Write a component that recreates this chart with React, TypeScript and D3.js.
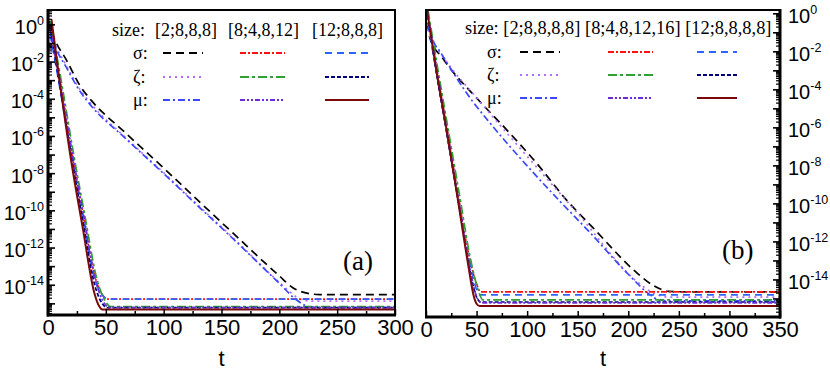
import React, { useRef, useEffect } from "react";
import * as d3 from "d3";

type Pt = [number, number]; // [t, log10 of the value]

// x tick labels and y decade labels (exponents)
const aXTicks = [0, 50, 100, 150, 200, 250, 300];
const bXTicks = [0, 50, 100, 150, 200, 250, 300, 350];
const yExps = [0, -2, -4, -6, -8, -10, -12, -14];

const rowLabels = ["σ:", "ζ:", "μ:"];
const aSizes = ["[2;8,8,8]", "[8;4,8,12]", "[12;8,8,8]"];
const bSizes = ["[2;8,8,8,8]", "[8;4,8,12,16]", "[12;8,8,8,8]"];

// ---- panel (a)
const aSigma2: Pt[] = [[0, 0.3], [4, -0.5], [16, -1.9], [28, -3.3], [38, -4.1], [66, -5.75], [100, -7.7], [129, -9.4], [160, -11.2], [200, -13.5], [212, -14.15], [222, -14.4], [235, -14.5], [300, -14.5]];
const aSigma8: Pt[] = [[1, 0.1], [10, -3.0], [20, -6.7], [30, -10.1], [40, -13.4], [48, -14.6], [51, -14.75], [300, -14.75]];
const aSigma12: Pt[] = [[0, 0.1], [10, -3.3], [20, -7.0], [30, -10.4], [40, -13.6], [48, -14.6], [51, -14.75], [300, -14.75]];
const aZeta2: Pt[] = [[0, 0.1], [4, -0.7], [16, -2.2], [28, -3.5], [38, -4.3], [66, -6.0], [100, -7.95], [129, -9.65], [160, -11.45], [200, -13.85], [210, -14.4], [218, -14.75], [228, -14.85], [300, -14.85]];
const aZeta8: Pt[] = [[2, 0.2], [12, -3.2], [22, -6.9], [32, -10.3], [42, -13.6], [50, -14.9], [54, -15.15], [300, -15.15]];
const aZeta12: Pt[] = [[1, 0.2], [10, -3.2], [20, -7.0], [30, -10.5], [40, -13.9], [47, -15.0], [51, -15.2], [300, -15.2]];
const aMu2: Pt[] = [[0, 0.1], [4, -0.8], [16, -2.3], [28, -3.6], [38, -4.4], [66, -6.05], [100, -8.0], [129, -9.7], [160, -11.5], [200, -13.9], [215, -14.8], [225, -15.15], [232, -15.2], [300, -15.2]];
const aMu8: Pt[] = [[1, 0.1], [11, -3.2], [21, -6.9], [31, -10.3], [41, -13.7], [49, -15.0], [53, -15.2], [300, -15.2]];
const aMu12: Pt[] = [[3, 0.3], [10, -3.0], [20, -7.3], [30, -10.9], [40, -14.4], [44, -15.1], [47, -15.3], [300, -15.3]];

// ---- panel (b)
const bSigma2: Pt[] = [[0, 0.2], [4, -1.3], [16, -2.3], [53, -4.6], [78, -6.0], [110, -7.9], [139, -9.8], [165, -11.25], [209, -13.65], [225, -14.3], [240, -14.6], [260, -14.63], [350, -14.63]];
const bSigma8: Pt[] = [[1, 0.2], [10, -2.8], [20, -5.8], [31, -9.3], [42, -12.6], [50, -14.2], [54, -14.63], [350, -14.63]];
const bSigma12: Pt[] = [[0, 0.1], [10, -3.0], [20, -6.1], [31, -9.5], [42, -12.8], [50, -14.5], [53, -14.79], [350, -14.79]];
const bZeta2: Pt[] = [[0, 0.1], [4, -1.2], [16, -2.2], [53, -4.6], [100, -7.5], [150, -10.5], [209, -14.1], [225, -14.7], [240, -14.9], [350, -14.9]];
const bZeta8: Pt[] = [[2, 0.2], [12, -3.0], [22, -6.1], [33, -9.5], [44, -12.9], [52, -14.6], [56, -15.05], [350, -15.05]];
const bZeta12: Pt[] = [[1, 0.2], [10, -3.0], [20, -6.1], [31, -9.6], [42, -13.1], [50, -14.9], [54, -15.16], [350, -15.16]];
const bMu2: Pt[] = [[0, 0.1], [7, -1.4], [14, -2.0], [46, -4.6], [61, -5.6], [100, -8.0], [134, -9.95], [162, -11.5], [200, -13.7], [222, -14.8], [230, -15.05], [240, -15.1], [350, -15.1]];
const bMu8: Pt[] = [[1, 0.2], [11, -3.0], [21, -6.2], [32, -9.7], [43, -13.3], [51, -15.0], [55, -15.21], [350, -15.21]];
const bMu12: Pt[] = [[1, 0.2], [10, -2.9], [20, -6.0], [31, -9.6], [42, -13.3], [47, -14.8], [50, -15.25], [53, -15.37], [350, -15.37]];

// line styles, rows sigma / zeta / mu, columns by size
const styles = [
  [{ c: "#000000", d: "8,5" }, { c: "#ff1010", d: "6,2,2,2" }, { c: "#2f63ff", d: "7,5" }],
  [{ c: "#b56cff", d: "2,4" }, { c: "#30a030", d: "9,3,3,3" }, { c: "#00007a", d: "4,2" }],
  [{ c: "#3c48ff", d: "7,3,2,3" }, { c: "#6c2bd9", d: "5,2,2,2,2,2" }, { c: "#7a0a0a", d: null }],
];

const panels = [
  {
    x0: 48, x1: 395, y0: 10, y1: 315, tMax: 300, logTop: 0.8, logBot: -15.6, side: "left",
    xTicks: aXTicks, sizes: aSizes, label: "(a)", labelX: 343, labelY: 270,
    series: [[aSigma2, aSigma8, aSigma12], [aZeta2, aZeta8, aZeta12], [aMu2, aMu8, aMu12]],
    leg: { hy: 36, hx: [112, 155, 228, 312], flow: false, fs: 18, ry: [53, 77, 100], lx: 133, cols: [[163, 203], [240, 285], [325, 369]] },
  },
  {
    x0: 426, x1: 780, y0: 10, y1: 317, tMax: 350, logTop: 0.2, logBot: -15.95, side: "right",
    xTicks: bXTicks, sizes: bSizes, label: "(b)", labelX: 722, labelY: 259,
    series: [[bSigma2, bSigma8, bSigma12], [bZeta2, bZeta8, bZeta12], [bMu2, bMu8, bMu12]],
    leg: { hy: 34, hx: [465], flow: true, fs: 18.4, ry: [52, 75, 98], lx: 487, cols: [[520, 560], [608, 653], [697, 737]] },
  },
];

const App = () => {
  const svgRef = useRef<SVGSVGElement>(null);

  useEffect(() => {
    const svg = d3.select(svgRef.current);
    svg.selectAll("*").remove();
    const sans = "'Liberation Sans', Arial, sans-serif";
    const serif = "'Liberation Serif', 'Times New Roman', serif";

    panels.forEach((p, pi) => {
      const x = d3.scaleLinear().domain([0, p.tMax]).range([p.x0, p.x1]);
      const y = d3.scaleLog().domain([Math.pow(10, p.logBot), Math.pow(10, p.logTop)]).range([p.y1, p.y0]);

      const clipId = `clip${pi}`;
      svg.append("clipPath").attr("id", clipId)
        .append("rect").attr("x", p.x0).attr("y", p.y0).attr("width", p.x1 - p.x0).attr("height", p.y1 - p.y0);

      // curves
      const line = d3.line<Pt>()
        .x(d => x(d[0]))
        .y(d => y(Math.pow(10, d[1])))
        .curve(d3.curveMonotoneX);
      const g = svg.append("g").attr("clip-path", `url(#${clipId})`);
      const order = [[0, 0], [1, 0], [2, 0], [0, 1], [0, 2], [1, 1], [1, 2], [2, 1], [2, 2]];
      order.forEach(([r, c]) => {
        const st = styles[r][c];
        g.append("path")
          .attr("d", line(p.series[r][c]))
          .attr("fill", "none")
          .attr("stroke", st.c)
          .attr("stroke-width", r === 2 && c === 2 ? 2 : 1.7)
          .attr("stroke-dasharray", st.d);
      });

      // frame
      svg.append("rect")
        .attr("x", p.x0).attr("y", p.y0)
        .attr("width", p.x1 - p.x0).attr("height", p.y1 - p.y0)
        .attr("fill", "none").attr("stroke", "#000").attr("stroke-width", 2);

      // x axis, ticks pointing inward
      const minorX = d3.range(25, p.tMax, 50);
      svg.append("g")
        .attr("transform", `translate(0,${p.y1})`)
        .call(d3.axisBottom(x).tickValues(minorX).tickSize(-4).tickFormat(() => ""))
        .call(a => a.select(".domain").remove())
        .call(a => a.selectAll("line").attr("stroke-width", 1.5));
      const xa = svg.append("g")
        .attr("transform", `translate(0,${p.y1})`)
        .call(d3.axisBottom(x).tickValues(p.xTicks).tickSize(-6).tickPadding(4))
        .call(a => a.select(".domain").attr("stroke-width", 3).attr("d", `M${p.x0 - 1},0H${p.x1 + 1}`));
      xa.selectAll("line").attr("stroke-width", 1.5);
      xa.selectAll("text").attr("font-family", sans).attr("font-size", 22).attr("fill", "#000");

      svg.append("text")
        .attr("x", (p.x0 + p.x1) / 2).attr("y", 366)
        .attr("text-anchor", "middle")
        .attr("font-family", sans).attr("font-size", 22)
        .text("t");

      // y axis with log minor ticks
      const axisX = p.side === "left" ? p.x0 : p.x1;
      const dir = p.side === "left" ? 1 : -1;
      const majors = d3.range(Math.ceil(p.logBot), Math.floor(p.logTop) + 1).map(e => Math.pow(10, e));
      const minors: number[] = [];
      d3.range(Math.floor(p.logBot), Math.ceil(p.logTop)).forEach(e => {
        d3.range(2, 10).forEach(k => {
          const v = k * Math.pow(10, e);
          if (Math.log10(v) > p.logBot && Math.log10(v) < p.logTop) minors.push(v);
        });
      });
      const ya = svg.append("g");
      ya.selectAll("line.maj").data(majors).enter().append("line")
        .attr("x1", axisX).attr("x2", axisX + dir * 7)
        .attr("y1", d => y(d)).attr("y2", d => y(d))
        .attr("stroke", "#000").attr("stroke-width", 1.6);
      ya.selectAll("line.min").data(minors).enter().append("line")
        .attr("x1", axisX).attr("x2", axisX + dir * 4)
        .attr("y1", d => y(d)).attr("y2", d => y(d))
        .attr("stroke", "#000").attr("stroke-width", 1.2);
      ya.append("line")
        .attr("x1", axisX).attr("x2", axisX)
        .attr("y1", p.y0 - 1).attr("y2", p.y1 + 1.5)
        .attr("stroke", "#000").attr("stroke-width", 3);

      yExps.forEach(e => {
        const ty = y(Math.pow(10, e));
        const t = svg.append("text")
          .attr("x", p.side === "left" ? p.x0 - 4 : p.x1 + 8)
          .attr("y", ty + 9)
          .attr("text-anchor", p.side === "left" ? "end" : "start")
          .attr("font-family", sans).attr("font-size", 20);
        t.append("tspan").text("10");
        t.append("tspan").attr("font-size", 12.5).attr("dy", -9).text(String(e));
      });

      // panel label
      svg.append("text")
        .attr("x", p.labelX).attr("y", p.labelY)
        .attr("font-family", serif).attr("font-size", 27)
        .text(p.label);

      // legend
      const L = p.leg;
      if (L.flow) {
        svg.append("text").attr("x", L.hx[0]).attr("y", L.hy)
          .attr("font-family", serif).attr("font-size", L.fs)
          .text(["size:", ...p.sizes].join(" "));
      } else {
        svg.append("text").attr("x", L.hx[0]).attr("y", L.hy)
          .attr("font-family", serif).attr("font-size", L.fs).text("size:");
        p.sizes.forEach((s, i) => {
          svg.append("text").attr("x", L.hx[i + 1]).attr("y", L.hy)
            .attr("font-family", serif).attr("font-size", L.fs).text(s);
        });
      }
      rowLabels.forEach((lab, r) => {
        svg.append("text").attr("x", L.lx).attr("y", L.ry[r] + 6)
          .attr("font-family", serif).attr("font-size", 18).text(lab);
        L.cols.forEach((cx, c) => {
          const st = styles[r][c];
          svg.append("line")
            .attr("x1", cx[0]).attr("x2", cx[1])
            .attr("y1", L.ry[r]).attr("y2", L.ry[r])
            .attr("stroke", st.c).attr("stroke-width", 2)
            .attr("stroke-dasharray", st.d);
        });
      });
    });
  }, []);

  return (
    <svg ref={svgRef} width={830} height={370}
      style={{ position: "absolute", left: 0, top: 0, background: "#fff" }} />
  );
};

export default App;
